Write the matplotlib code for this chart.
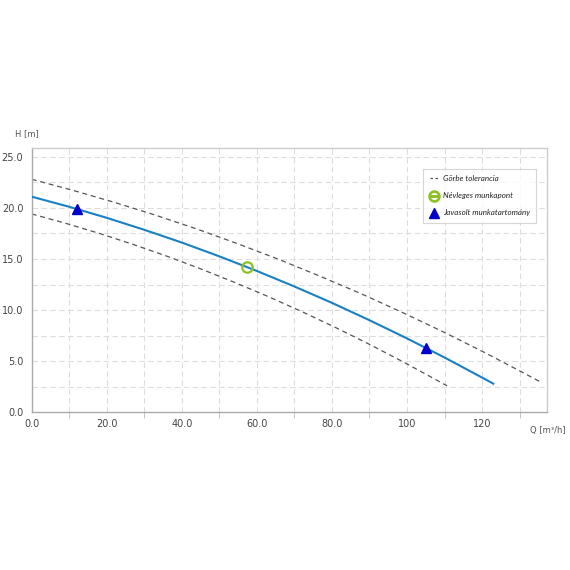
import matplotlib
matplotlib.use("Agg")
import matplotlib.pyplot as plt
from matplotlib.lines import Line2D

# Pump curve (main)
q_main = [0, 10, 20, 30, 40, 50, 60, 70, 80, 90, 100, 110, 120, 123]
h_main = [21.1, 20.11, 19.03, 17.86, 16.61, 15.26, 13.83, 12.31, 10.71, 9.01, 7.23, 5.36, 3.40, 2.80]
# Tolerance curves
q_upper = [0, 11, 22, 33, 44, 55, 66, 77, 88, 99, 110, 121, 132, 135.3]
h_upper = [22.8, 21.72, 20.55, 19.29, 17.94, 16.48, 14.94, 13.29, 11.57, 9.73, 7.81, 5.79, 3.67, 3.02]
q_lower = [0, 9, 18, 27, 36, 45, 54, 63, 72, 81, 90, 99, 108, 110.7]
h_lower = [19.41, 18.50, 17.51, 16.43, 15.28, 14.04, 12.72, 11.33, 9.85, 8.29, 6.65, 4.93, 3.13, 2.58]
# Points
q_nominal = [57.5]
h_nominal = [14.2]
q_range = [12, 105]
h_range = [19.9, 6.3]

x_ticks = [0, 20, 40, 60, 80, 100, 120]
x_tick_labels = ["0.0", "20.0", "40.0", "60.0", "80.0", "100", "120"]
y_ticks = [0, 5, 10, 15, 20, 25]
y_tick_labels = ["0.0", "5.0", "10.0", "15.0", "20.0", "25.0"]

legend_labels = ["Görbe tolerancia", "Névleges munkapont", "Javasolt munkatartomány"]

plt.rcParams['font.family'] = ['DejaVu Sans']
fig = plt.figure(figsize=(5.7, 5.7), dpi=100)
ax = fig.add_axes([0.0556, 0.2767, 0.904, 0.4643])

ax.set_xlim(0, 137.3)
ax.set_ylim(0, 25.9)

# grid
for gx in range(10, 140, 10):
    ax.axvline(gx, color="#dddddd", lw=0.8, ls=(0, (5, 3)), zorder=0)
for gy in [2.5, 5, 7.5, 10, 12.5, 15, 17.5, 20, 22.5, 25]:
    ax.axhline(gy, color="#dddddd", lw=0.8, ls=(0, (5, 3)), zorder=0)

ax.plot(q_upper, h_upper, color="#555555", lw=0.9, ls=(0, (4, 3)), zorder=2)
ax.plot(q_lower, h_lower, color="#555555", lw=0.9, ls=(0, (4, 3)), zorder=2)
ax.plot(q_main, h_main, color="#1a80c4", lw=1.5, zorder=3)
ax.plot(q_nominal, h_nominal, ls="none", marker="o", ms=7.5, mfc="none",
        mec="#8dc021", mew=1.6, zorder=4)
ax.plot(q_range, h_range, ls="none", marker="^", ms=7, color="#0000cc", zorder=4)

ax.set_xticks(x_ticks)
ax.set_xticklabels(x_tick_labels)
ax.set_yticks(y_ticks)
ax.set_yticklabels(y_tick_labels)
ax.set_xticks(range(10, 140, 20), minor=True)
ax.tick_params(axis="both", which="major", labelsize=7, colors="#444444", length=0, pad=5)
ax.tick_params(axis="x", which="minor", length=4, color="#bbbbbb", direction="out")
ax.tick_params(axis="y", which="major", pad=6)

for s in ["left", "bottom"]:
    ax.spines[s].set_color("#aaaaaa")
    ax.spines[s].set_linewidth(1.0)
for s in ["top", "right"]:
    ax.spines[s].set_color("#cccccc")
    ax.spines[s].set_linewidth(1.0)

fig.text(0.026, 0.762, "H [m]", fontsize=6, color="#555555")
fig.text(0.930, 0.240, "Q [m³/h]", fontsize=6, color="#555555")

handles = [
    Line2D([], [], color="#555555", lw=0.9, ls=(0, (2, 2))),
    Line2D([], [], ls="none", marker="$\u2296$", ms=8, color="#8dc021"),
    Line2D([], [], ls="none", marker="^", ms=7, color="#0000cc"),
]
leg = ax.legend(handles, legend_labels, loc="upper right", bbox_to_anchor=(0.987, 0.935),
                prop={"family": "Lato", "style": "italic", "size": 5.8},
                frameon=True, fancybox=False, edgecolor="#cccccc", handlelength=1.0,
                handletextpad=0.6, labelspacing=1.25, borderpad=0.8)
leg.get_frame().set_linewidth(0.8)
for t in leg.get_texts():
    t.set_color("#222222")

fig.savefig("out.png", dpi=100, facecolor="white")
